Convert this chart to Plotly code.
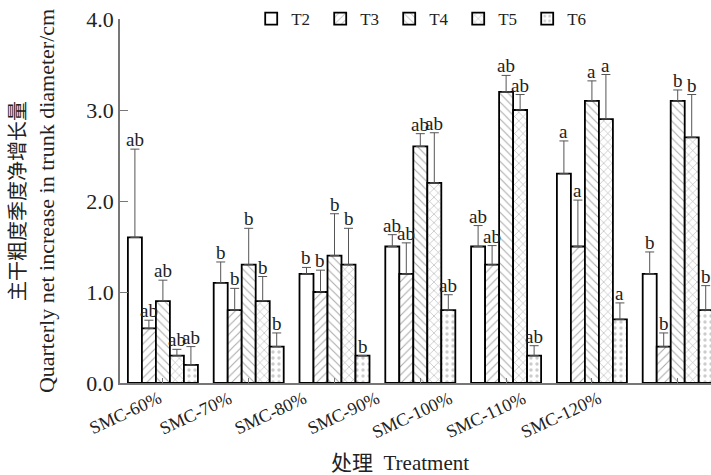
import plotly.graph_objects as go

categories = ["SMC-60%", "SMC-70%", "SMC-80%", "SMC-90%", "SMC-100%", "SMC-110%", "SMC-120%"]
series_names = ["T2", "T3", "T4", "T5", "T6"]

t2 = [1.60, 1.10, 1.20, 1.50, 1.50, 2.30, 1.20]
t3 = [0.60, 0.80, 1.00, 1.20, 1.30, 1.50, 0.40]
t4 = [0.90, 1.30, 1.40, 2.60, 3.20, 3.10, 3.10]
t5 = [0.30, 0.90, 1.30, 2.20, 3.00, 2.90, 2.70]
t6 = [0.20, 0.40, 0.30, 0.80, 0.30, 0.70, 0.80]

e2 = [0.97, 0.23, 0.07, 0.13, 0.23, 0.36, 0.24]
e3 = [0.09, 0.24, 0.24, 0.34, 0.21, 0.51, 0.15]
e4 = [0.23, 0.40, 0.46, 0.14, 0.18, 0.22, 0.12]
e5 = [0.07, 0.27, 0.40, 0.55, 0.17, 0.49, 0.47]
e6 = [0.20, 0.15, 0.00, 0.17, 0.11, 0.18, 0.27]

letters = ["ab", "b", "b", "ab", "ab", "a", "b"]

values = [t2, t3, t4, t5, t6]
errors = [e2, e3, e4, e5, e6]
patterns = ["", "/", "\\", "x", "."]
pat_colors = ["#444", "#555", "#555", "#555", "#999"]

FONT = "Liberation Serif, Times New Roman, Noto Sans CJK SC, serif"

# layout constants
X_RANGE = [-0.5, 6.388]
BARGAP = 0.184
PLOT_W = 711 - 120
cat_px = PLOT_W / (X_RANGE[1] - X_RANGE[0])
bar_px = (1 - BARGAP) * cat_px / 5
# category labels in the source figure drift left of their groups
label_shift_px = [4, -11, -22, -35, -48, -61, -71]

fig = go.Figure()
for k, name in enumerate(series_names):
    fig.add_trace(go.Bar(
        name=name, x=categories, y=values[k],
        marker=dict(color="white", line=dict(color="black", width=1.8),
                    pattern=dict(shape=patterns[k], fgcolor=pat_colors[k], bgcolor="white",
                                 size=6, solidity=0.25 if k == 4 else 0.18)),
        error_y=dict(type="data", symmetric=False, array=errors[k],
                     arrayminus=[0] * len(categories), color="#555", thickness=1, width=4.5),
    ))

annotations = []
for k in range(5):
    for j, c in enumerate(categories):
        annotations.append(dict(
            x=c, y=values[k][j] + errors[k][j], xref="x", yref="y",
            text=letters[j], showarrow=False, yanchor="bottom",
            xshift=(k - 2) * bar_px, yshift=-3,
            font=dict(family=FONT, size=19, color="#222")))
for j, c in enumerate(categories):
    annotations.append(dict(
        x=c, y=0, xref="x", yref="y", text=c, showarrow=False,
        xanchor="right", yanchor="top", textangle=-25,
        xshift=label_shift_px[j], yshift=-2,
        font=dict(family=FONT, size=18, color="#222")))
annotations.append(dict(
    x=0.5, y=0, xref="paper", yref="paper", text="处理  Treatment", showarrow=False,
    xanchor="center", yanchor="middle", xshift=-16, yshift=-80,
    font=dict(family=FONT, size=21, color="#222")))
fig.update_layout(annotations=annotations)

ytitle = ('<span style="font-size:20px">主干粗度季度净增长量</span><br>'
          'Quarterly net increase in trunk diameter/cm')

fig.update_layout(
    width=711, height=475,
    margin=dict(l=120, r=0, t=19, b=92, autoexpand=False),
    plot_bgcolor="white", paper_bgcolor="white",
    barmode="group", bargap=BARGAP, bargroupgap=0,
    font=dict(family=FONT, size=16, color="#222"),
    legend=dict(orientation="h", x=0.222, y=1.0, xanchor="left", yanchor="middle",
                font=dict(family=FONT, size=17, color="#222"),
                bgcolor="rgba(0,0,0,0)", entrywidth=24, entrywidthmode="pixels"),
    xaxis=dict(range=X_RANGE, showticklabels=False, showline=True, linecolor="#777",
               linewidth=1.5, ticks="inside", ticklen=5, tickcolor="#777"),
    yaxis=dict(range=[0, 4], tickvals=[0, 1, 2, 3, 4],
               ticktext=["0.0", "1.0", "2.0", "3.0", "4.0"],
               showline=True, linecolor="#777", linewidth=1.5, ticks="inside", ticklen=8,
               tickcolor="#777", showgrid=False, zeroline=False,
               tickfont=dict(family=FONT, size=22, color="#222"),
               title=dict(text=ytitle, font=dict(family=FONT, size=22), standoff=26)),
)

fig.write_html("out.html")
